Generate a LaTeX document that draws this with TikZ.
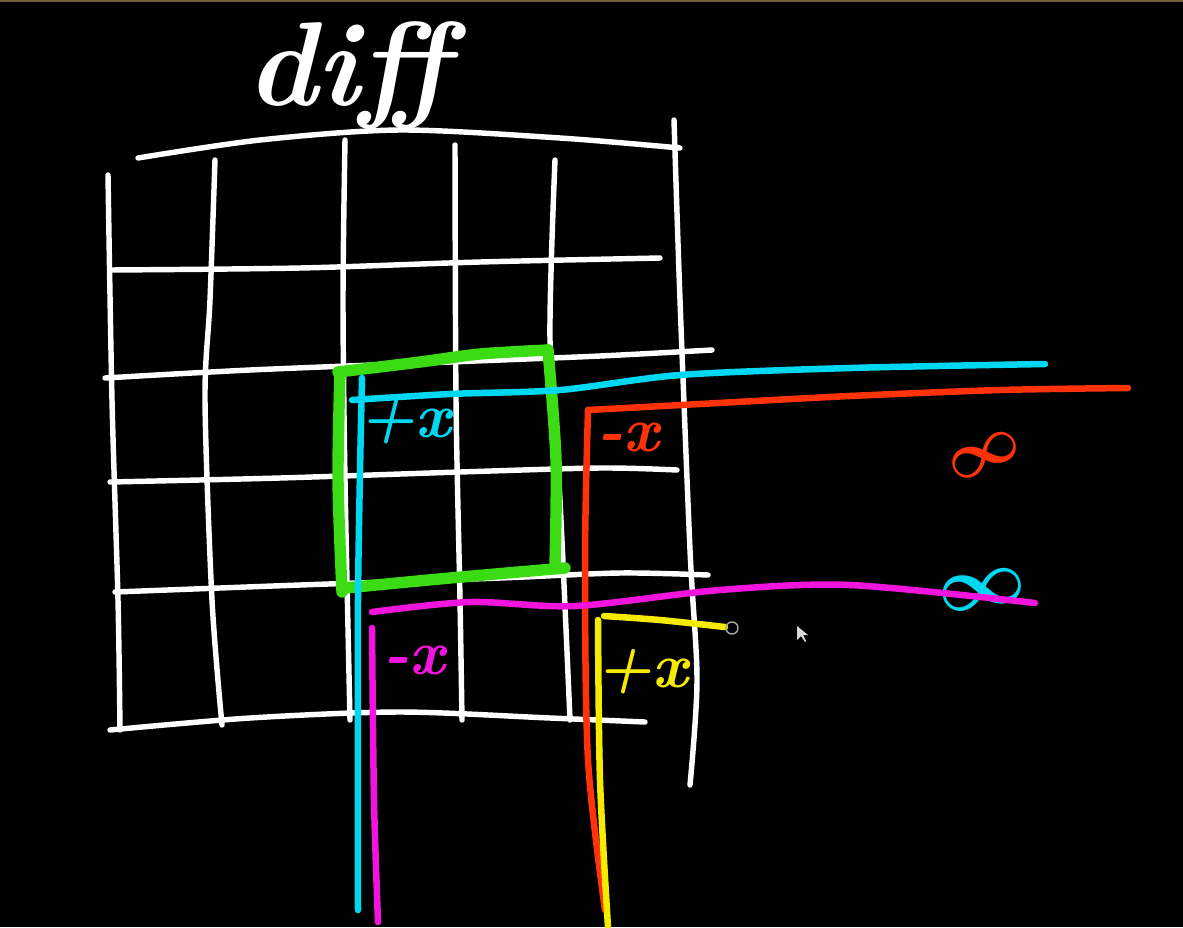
\documentclass[tikz,border=0pt]{standalone}
\usepackage{fontspec}
\begin{document}
\begin{tikzpicture}[x=0.02cm,y=-0.02cm,line cap=round,line join=round,
  grid/.style={draw=white,line width=3.1pt},
  pen/.style={line width=3.7pt},
  grn/.style={draw=grnc,line width=6.5pt},
  lbl/.style={font=\fontsize{36}{36}\selectfont\bfseries\itshape,inner sep=0pt},
  inf/.style={font=\mathversion{bold},inner sep=0pt,scale=4.4}]
\definecolor{cyanc}{RGB}{0,215,240}
\definecolor{redc}{RGB}{255,50,10}
\definecolor{magc}{RGB}{240,20,220}
\definecolor{yelc}{RGB}{245,235,0}
\definecolor{grnc}{RGB}{60,220,20}
\fill[black] (0,0) rectangle (1183,927);
\useasboundingbox (0,0) rectangle (1183,927);
\draw[color={rgb,255:red,120;green,90;blue,60},line width=1pt] (0,1) -- (1183,1);
% title
\node[text=white,font=\fontsize{68}{68}\selectfont\bfseries\itshape,inner sep=0pt] (title) at (348,76) {diff};
% horizontal grid lines
\draw[grid] plot[smooth] coordinates {(138,158) (260,140) (400,130) (560,138) (680,148)};
\draw[grid] plot[smooth] coordinates {(110,270) (300,268) (480,262) (660,258)};
\draw[grid] plot[smooth] coordinates {(105,378) (250,370) (450,362) (600,356) (712,350)};
\draw[grid] plot[smooth] coordinates {(110,482) (280,478) (460,472) (600,468) (677,470)};
\draw[grid] plot[smooth] coordinates {(115,592) (300,585) (500,578) (620,573) (708,575)};
\draw[grid] plot[smooth] coordinates {(110,730) (250,718) (400,712) (550,718) (645,722)};
% vertical grid lines
\draw[grid] plot[smooth] coordinates {(108,175) (112,400) (118,600) (120,730)};
\draw[grid] plot[smooth] coordinates {(215,160) (210,300) (205,400) (212,600) (222,725)};
\draw[grid] plot[smooth] coordinates {(345,140) (343,300) (345,480) (350,720)};
\draw[grid] plot[smooth] coordinates {(455,145) (456,400) (460,600) (462,720)};
\draw[grid] plot[smooth] coordinates {(555,160) (550,340) (560,500) (570,720)};
\draw[grid] plot[smooth] coordinates {(674,120) (680,300) (690,550) (697,680) (690,785)};
% green box
\draw[grn] plot[smooth] coordinates {(338,372) (420,362) (480,354) (548,350)};
\draw[grn] plot[smooth] coordinates {(548,350) (556,460) (555,565)};
\draw[grn] plot[smooth] coordinates {(345,588) (450,578) (565,568)};
\draw[grn] plot[smooth] coordinates {(340,372) (338,480) (342,592)};
% cyan
\draw[pen,cyanc] plot[smooth] coordinates {(362,378) (358,600) (358,910)};
\draw[pen,cyanc] plot[smooth] coordinates {(352,400) (450,394) (560,390) (680,375) (850,368) (1045,364)};
\node[lbl,text=cyanc] (cx) at (405,422) {+x};
\node[inf,text=cyanc,rotate=10] (cinf) at (982,590) {$\infty$};
% red
\draw[pen,redc] plot[smooth] coordinates {(588,410) (700,404) (850,396) (1000,390) (1128,388)};
\draw[pen,redc] plot[smooth] coordinates {(588,410) (585,560) (588,760) (605,910)};
\node[lbl,text=redc] (rx) at (628,437) {-x};
\node[inf,text=redc,rotate=25,scale=0.85] (rinf) at (985,455) {$\infty$};
% magenta
\draw[pen,magc] plot[smooth] coordinates {(372,612) (470,602) (575,606) (720,590) (850,585) (1035,603)};
\draw[pen,magc] plot[smooth] coordinates {(372,628) (374,800) (378,922)};
\node[lbl,text=magc] (mx) at (414,660) {-x};
% yellow
\draw[pen,yelc] plot[smooth] coordinates {(604,616) (660,620) (725,627)};
\draw[pen,yelc] plot[smooth] coordinates {(598,620) (600,780) (608,927)};
\node[lbl,text=yelc] (yx) at (642,672) {+x};
\draw[gray!70,line width=0.8pt] (732,628) circle (6);
% mouse cursor
\fill[white!85!black] (797,626) -- (797,640) -- (801,636) -- (805,642) -- (806,641) -- (803,635) -- (808,635) -- cycle;
\end{tikzpicture}
\end{document}
